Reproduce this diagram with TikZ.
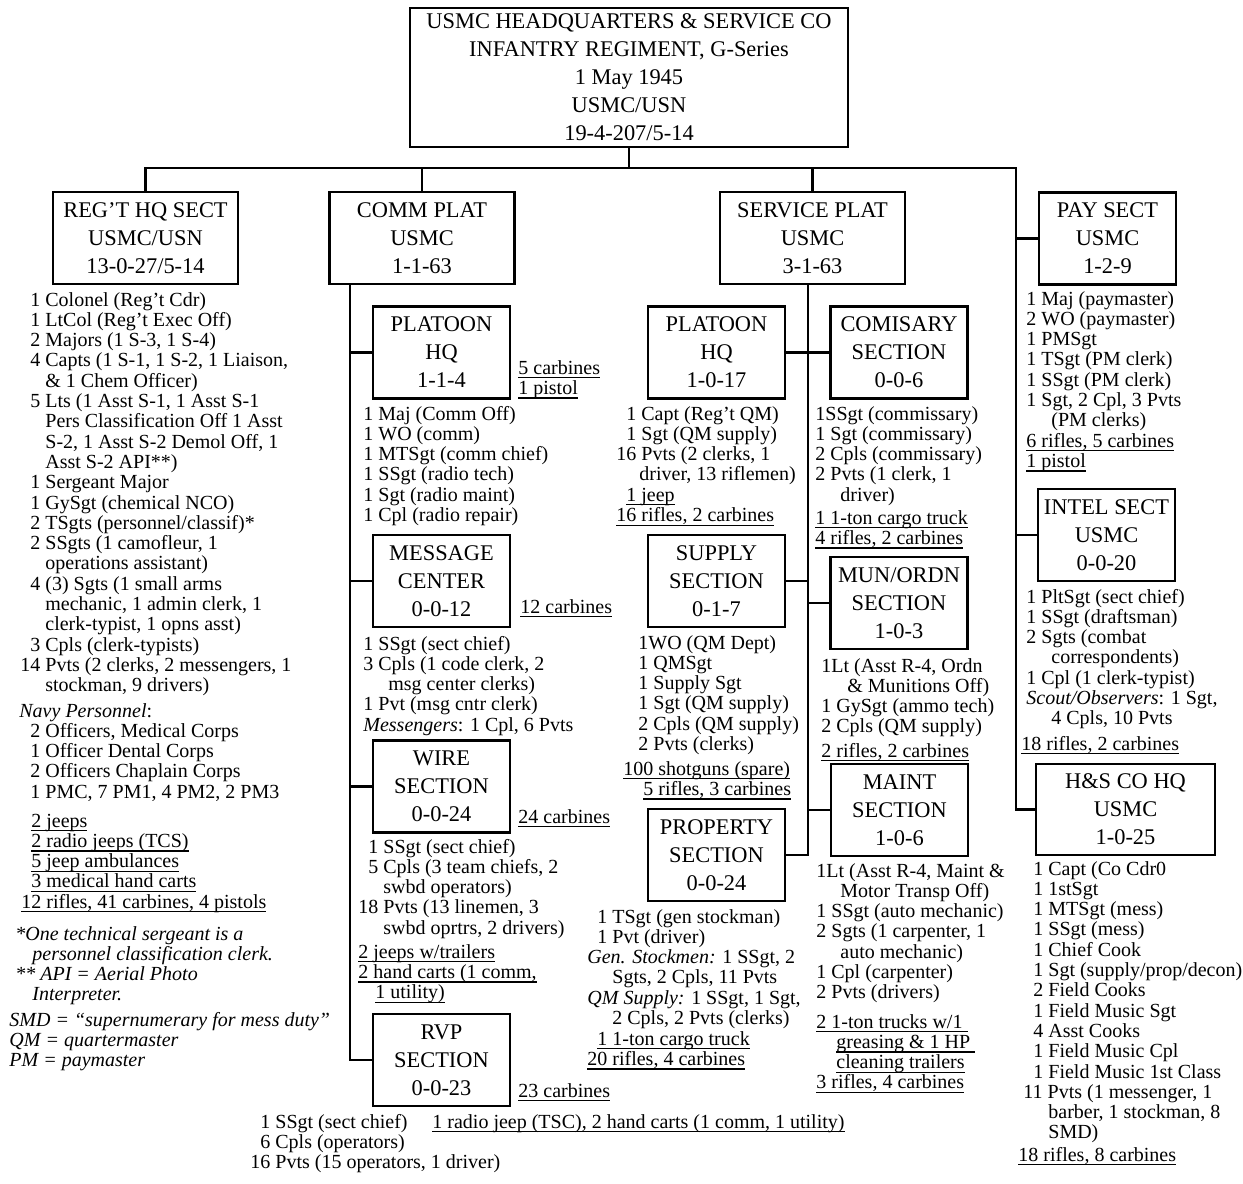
\documentclass[tikz,border=0pt]{standalone}
\usepackage{fontspec}
\setmainfont{Liberation Serif}

\newcommand{\pn}{\hphantom{0}}
\newcommand{\ind}[1]{\hspace*{#1pt}}
\newcommand{\ul}[1]{\setbox0\hbox{#1}\rlap{\vrule height -1.5pt depth 2.1pt width \wd0}\box0}
\newcommand{\lst}[1]{\begin{tabular}[t]{@{}l@{}}#1\end{tabular}}

\begin{document}
\begin{tikzpicture}[x=0.5pt, y=-0.5pt,
        unit/.style={draw, line width=1.4pt, align=center, inner sep=0pt, font=\fontsize{11.2}{14}\selectfont},
        company/.style={unit, minimum width=219pt, minimum height=69.5pt},
        plat/.style={unit, minimum width=92.5pt, minimum height=46pt},
        sect/.style={unit, minimum width=68.5pt, minimum height=46pt},
        roster/.style={anchor=base west, inner sep=0pt, font=\fontsize{10}{10.15}\selectfont},
        link/.style={line width=1.4pt}
    ]
        \useasboundingbox[fill=white] (0,0) rectangle (1243,1184);

        % Unites (cadres)
        \node[company] (hq) at (629,77.5) {USMC HEADQUARTERS \& SERVICE CO\\INFANTRY REGIMENT, G-Series\\1 May 1945\\USMC/USN\\19-4-207/5-14};
        \node[plat] (regthq) at (145.5,238) {REG’T HQ SECT\\USMC/USN\\13-0-27/5-14};
        \node[plat] (commplat) at (422,238) {COMM PLAT\\USMC\\1-1-63};
        \node[plat] (svcplat) at (812.5,238) {SERVICE PLAT\\USMC\\3-1-63};
        \node[sect] (paysect) at (1107.5,238.5) {PAY SECT\\USMC\\1-2-9};
        \node[sect] (intel) at (1106.5,535) {INTEL SECT\\USMC\\0-0-20};
        \node[unit, minimum width=89.5pt, minimum height=45.5pt] (hns) at (1125.5,809.5) {H\&S CO HQ\\USMC\\1-0-25};

        \node[sect] (cphq) at (441.5,352.5) {PLATOON\\HQ\\1-1-4};
        \node[sect] (msgctr) at (441.5,581) {MESSAGE\\CENTER\\0-0-12};
        \node[sect] (wire) at (441.5,786.5) {WIRE\\SECTION\\0-0-24};
        \node[sect] (rvp) at (441.5,1060) {RVP\\SECTION\\0-0-23};

        \node[sect] (sphq) at (716.5,352.5) {PLATOON\\HQ\\1-0-17};
        \node[sect] (comis) at (899,352.5) {COMISARY\\SECTION\\0-0-6};
        \node[sect] (supply) at (716.5,581) {SUPPLY\\SECTION\\0-1-7};
        \node[sect] (munordn) at (899,603) {MUN/ORDN\\SECTION\\1-0-3};
        \node[sect] (maint) at (899.5,810) {MAINT\\SECTION\\1-0-6};
        \node[sect] (prop) at (716.5,855) {PROPERTY\\SECTION\\0-0-24};

        % Liaisons
        \coordinate (busL) at (146,168);
        \coordinate (busR) at (1016,168);
        \draw[link] (hq.south) -- (hq.south |- busL);
        \draw[link] (regthq.north) |- (busR) |- (hns.west);
        \draw[link] (commplat.north) -- (commplat.north |- busL);
        \draw[link] (svcplat.north) -- (svcplat.north |- busL);
        \draw[link] (busR |- paysect.west) -- (paysect.west);
        \draw[link] (busR |- intel.west) -- (intel.west);

        \coordinate (cspine) at (350,284);
        \draw[link] (cspine) |- (rvp.west);
        \foreach \n in {cphq,msgctr,wire}
            \draw[link] (cspine |- \n.west) -- (\n.west);

        \coordinate (sspine) at (808,284);
        \draw[link] (sspine) |- (prop.east);
        \draw[link] (sphq.east) -- (comis.west);
        \draw[link] (supply.east) -- (sspine |- supply.east);
        \foreach \n in {munordn,maint}
            \draw[link] (sspine |- \n.west) -- (\n.west);

        % REG'T HQ SECT
        \node[roster] (regtroster) at (20,306) {\lst{\pn 1 Colonel (Reg’t Cdr)\\\pn 1 LtCol (Reg’t Exec Off)\\\pn 2 Majors (1 S-3, 1 S-4)\\\pn 4 Capts (1 S-1, 1 S-2, 1 Liaison,\\\pn\ind{7.5}\& 1 Chem Officer)\\\pn 5 Lts (1 Asst S-1, 1 Asst S-1\\\pn\ind{7.5}Pers Classification Off 1 Asst\\\pn\ind{7.5}S-2, 1 Asst S-2 Demol Off, 1\\\pn\ind{7.5}Asst S-2 API**)\\\pn 1 Sergeant Major\\\pn 1 GySgt (chemical NCO)\\\pn 2 TSgts (personnel/classif)*\\\pn 2 SSgts (1 camofleur, 1\\\pn\ind{7.5}operations assistant)\\\pn 4 (3) Sgts (1 small arms\\\pn\ind{7.5}mechanic, 1 admin clerk, 1\\\pn\ind{7.5}clerk-typist, 1 opns asst)\\\pn 3 Cpls (clerk-typists)\\14 Pvts (2 clerks, 2 messengers, 1\\\pn\ind{7.5}stockman, 9 drivers)}};
        \node[roster] (navyroster) at (19,717) {\lst{\textit{Navy Personnel}:\\\ind{5.5}2 Officers, Medical Corps\\\ind{5.5}1 Officer Dental Corps\\\ind{5.5}2 Officers Chaplain Corps\\\ind{5.5}1 PMC, 7 PM1, 4 PM2, 2 PM3}};
        \node[roster] (regtgear) at (21,827) {\lst{\pn\ul{2 jeeps}\\\pn\ul{2 radio jeeps (TCS)}\\\pn\ul{5 jeep ambulances}\\\pn\ul{3 medical hand carts}\\\ul{12 rifles, 41 carbines, 4 pistols}}};
        \node[roster, font=\fontsize{10}{10.15}\selectfont\itshape] (notes) at (15,940) {\lst{*One technical sergeant is a\\\ind{8.5}personnel classification clerk.\\{}** API = Aerial Photo\\\ind{8.5}Interpreter.}};
        \node[roster, font=\fontsize{10}{10.15}\selectfont\itshape] (abbrev) at (9,1026) {\lst{SMD = “supernumerary for mess duty”\\QM = quartermaster\\PM = paymaster}};

        % COMM PLAT
        \node[roster] (cphqgear) at (518,374) {\lst{\ul{5 carbines}\\\ul{1 pistol}}};
        \node[roster] (cphqroster) at (363,420) {\lst{1 Maj (Comm Off)\\1 WO (comm)\\1 MTSgt (comm chief)\\1 SSgt (radio tech)\\1 Sgt (radio maint)\\1 Cpl (radio repair)}};
        \node[roster] (msggear) at (520,613) {\ul{12 carbines}};
        \node[roster] (msgroster) at (363,650) {\lst{1 SSgt (sect chief)\\3 Cpls (1 code clerk, 2\\\ind{12.5}msg center clerks)\\1 Pvt (msg cntr clerk)\\\textit{Messengers}: 1 Cpl, 6 Pvts}};
        \node[roster] (wirecarb) at (518,823) {\ul{24 carbines}};
        \node[roster] (wireroster) at (358,853) {\lst{\ind{5}1 SSgt (sect chief)\\\ind{5}5 Cpls (3 team chiefs, 2\\\ind{12.5}swbd operators)\\18 Pvts (13 linemen, 3\\\ind{12.5}swbd oprtrs, 2 drivers)}};
        \node[roster] (wiregear) at (358,958) {\lst{\ul{2 jeeps w/trailers}\\\ul{2 hand carts (1 comm,}\\\ind{8.5}\ul{1 utility)}}};
        \node[roster] (rvpcarb) at (518,1097) {\ul{23 carbines}};
        \node[roster] (rvproster) at (250,1128) {\lst{\pn 1 SSgt (sect chief)\\\pn 6 Cpls (operators)\\16 Pvts (15 operators, 1 driver)}};
        \node[roster] (rvpgear) at (432,1128) {\ul{1 radio jeep (TSC), 2 hand carts (1 comm, 1 utility)}};

        % SERVICE PLAT
        \node[roster] (sphqroster) at (616,420) {\lst{\pn 1 Capt (Reg’t QM)\\\pn 1 Sgt (QM supply)\\16 Pvts (2 clerks, 1\\\ind{11.5}driver, 13 riflemen)\\\pn\ul{1 jeep}\\\ul{16 rifles, 2 carbines}}};
        \node[roster] (comisroster) at (815,420) {\lst{1SSgt (commissary)\\1 Sgt (commissary)\\2 Cpls (commissary)\\2 Pvts (1 clerk, 1\\\ind{12.5}driver)}};
        \node[roster] (comisgear) at (815,524) {\lst{\ul{1 1-ton cargo truck}\\\ul{4 rifles, 2 carbines}}};
        \node[roster] (supplyroster) at (638,649) {\lst{1WO (QM Dept)\\1 QMSgt\\1 Supply Sgt\\1 Sgt (QM supply)\\2 Cpls (QM supply)\\2 Pvts (clerks)}};
        \node[roster] (supplygear) at (623,775) {\lst{\ul{100 shotguns (spare)}\\\ind{10}\ul{5 rifles, 3 carbines}}};
        \node[roster] (munroster) at (821,672) {\lst{1Lt (Asst R-4, Ordn\\\ind{13}\& Munitions Off)\\1 GySgt (ammo tech)\\2 Cpls (QM supply)}};
        \node[roster] (mungear) at (821,757) {\ul{2 rifles, 2 carbines}};
        \node[roster] (proproster) at (587,923) {\lst{\ind{5}1 TSgt (gen stockman)\\\ind{5}1 Pvt (driver)\\\textit{Gen. Stockmen:} 1 SSgt, 2\\\ind{12.5}Sgts, 2 Cpls, 11 Pvts\\\textit{QM Supply:} 1 SSgt, 1 Sgt,\\\ind{12.5}2 Cpls, 2 Pvts (clerks)}};
        \node[roster] (propgear) at (587,1045) {\lst{\ind{5}\ul{1 1-ton cargo truck}\\\ul{20 rifles, 4 carbines}}};
        \node[roster] (maintroster) at (816,877) {\lst{1Lt (Asst R-4, Maint \&\\\ind{12}Motor Transp Off)\\1 SSgt (auto mechanic)\\2 Sgts (1 carpenter, 1\\\ind{12}auto mechanic)\\1 Cpl (carpenter)\\2 Pvts (drivers)}};
        \node[roster] (maintgear) at (816,1028) {\lst{\ul{2 1-ton trucks w/1\ }\\\ind{10}\ul{greasing \& 1 HP\ }\\\ind{10}\ul{cleaning trailers}\\\ul{3 rifles, 4 carbines}}};

        % PAY, INTEL, H&S CO HQ
        \node[roster] (payroster) at (1026,305) {\lst{1 Maj (paymaster)\\2 WO (paymaster)\\1 PMSgt\\1 TSgt (PM clerk)\\1 SSgt (PM clerk)\\1 Sgt, 2 Cpl, 3 Pvts\\\ind{12.5}(PM clerks)\\\ul{6 rifles, 5 carbines}\\\ul{1 pistol}}};
        \node[roster] (intelroster) at (1026,603) {\lst{1 PltSgt (sect chief)\\1 SSgt (draftsman)\\2 Sgts (combat\\\ind{12.5}correspondents)\\1 Cpl (1 clerk-typist)\\\textit{Scout/Observers}: 1 Sgt,\\\ind{12.5}4 Cpls, 10 Pvts}};
        \node[roster] (intelgear) at (1021,750) {\ul{18 rifles, 2 carbines}};
        \node[roster] (hnsroster) at (1023,875) {\lst{\pn 1 Capt (Co Cdr0\\\pn 1 1stSgt\\\pn 1 MTSgt (mess)\\\pn 1 SSgt (mess)\\\pn 1 Chief Cook\\\pn 1 Sgt (supply/prop/decon)\\\pn 2 Field Cooks\\\pn 1 Field Music Sgt\\\pn 4 Asst Cooks\\\pn 1 Field Music Cpl\\\pn 1 Field Music 1st Class\\11 Pvts (1 messenger, 1\\\ind{12.5}barber, 1 stockman, 8\\\ind{12.5}SMD)}};
        \node[roster] (hnsgear) at (1018,1161) {\ul{18 rifles, 8 carbines}};
    \end{tikzpicture}
\end{document}
